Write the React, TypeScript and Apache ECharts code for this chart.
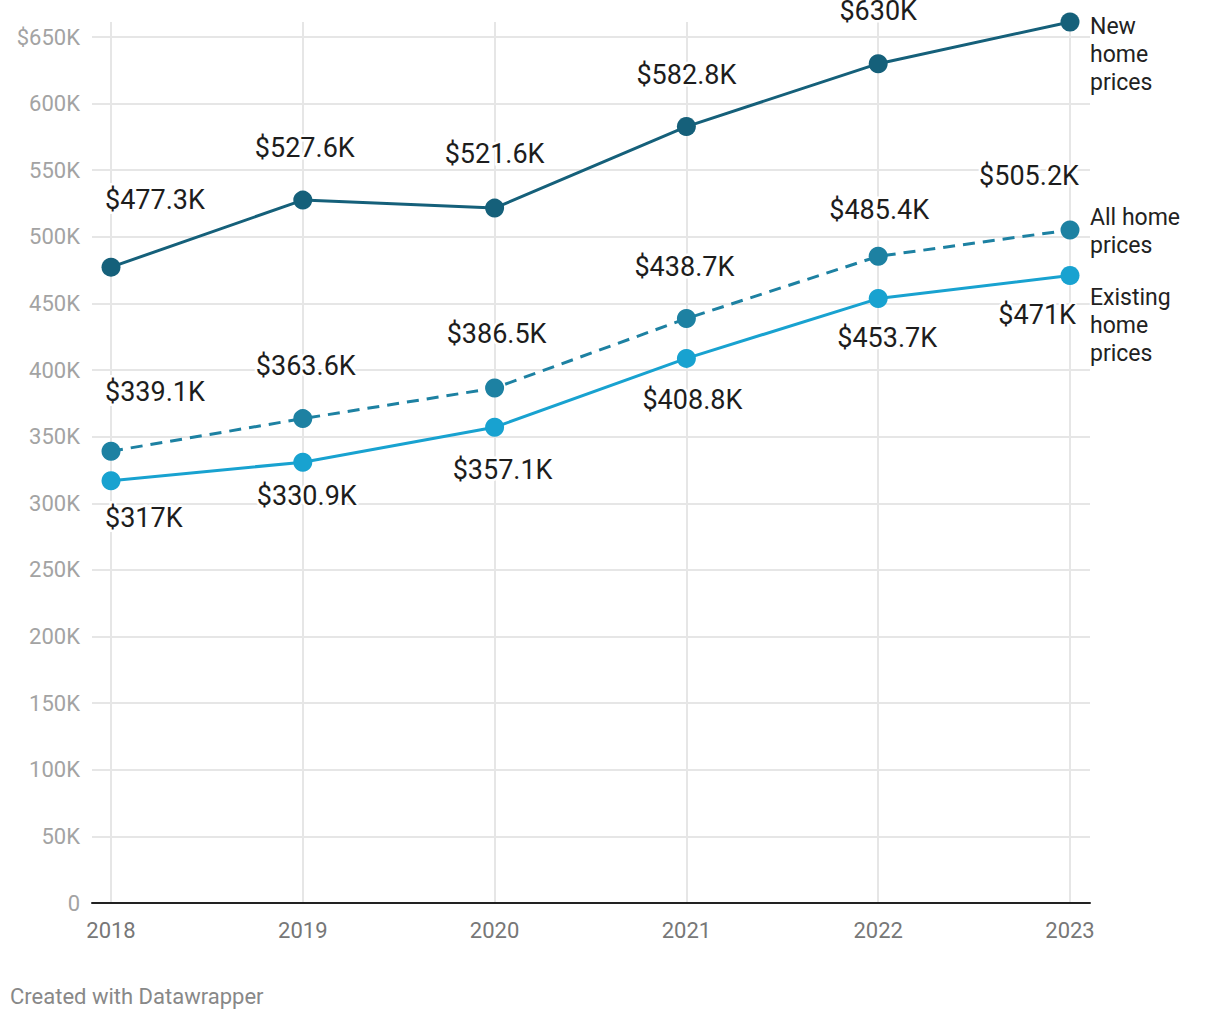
import React, { useEffect, useRef } from "react";
import * as echarts from "echarts";

const years = ["2018", "2019", "2020", "2021", "2022", "2023"];
const newHome = [477.3, 527.6, 521.6, 582.8, 630, 661.3];
const allHome = [339.1, 363.6, 386.5, 438.7, 485.4, 505.2];
const existingHome = [317, 330.9, 357.1, 408.8, 453.7, 471];
const seriesNames = ["New\nhome\nprices", "All home\nprices", "Existing\nhome\nprices"];
const yTickMax = 650;
const yTickStep = 50;

// label layout (pixel offsets, styling only)
const newDy = [-67, -52, -54, -52, -53, -54];
const newDx = [-6, 2, 0, 0, 0, 8];
const allDy = [-59, -53, -54, -52, -46, -54];
const allDx = [-6, 3, 2, -2, 1, 9];
const exDy = [37, 34, 43, 42, 39, 39];
const exDx = [-6, 4, 8, 6, 9, 6];

const fmt = (v: number) => "$" + (Number.isInteger(v) ? String(v) : v.toFixed(1)) + "K";

function buildData(values: number[], dx: number[], dy: number[], hideLast = false) {
  const n = values.length;
  return values.map((v, i) => ({
    value: v,
    label: {
      show: !(hideLast && i === n - 1),
      position: "inside",
      align: i === 0 ? "left" : i === n - 1 ? "right" : "center",
      verticalAlign: "middle",
      offset: [dx[i], dy[i]],
    },
  }));
}

export default function App() {
  const ref = useRef<HTMLDivElement>(null);
  useEffect(() => {
    document.body.style.margin = "0";
    const chart = echarts.init(ref.current!, null, { renderer: "svg" });
    const yMax = Math.max(...newHome);
    const labelStyle = {
      formatter: (p: any) => fmt(p.value),
      fontFamily: "Roboto",
      fontSize: 27,
      color: "#1d1d1d",
      textBorderColor: "#fff",
      textBorderWidth: 5,
    };
    const endLabel = (text: string, dy: number) => ({
      show: true,
      formatter: text,
      distance: 10,
      align: "left",
      verticalAlign: "top",
      offset: [10, dy],
      fontFamily: "Roboto",
      fontSize: 23,
      lineHeight: 28,
      color: "#222",
      textBorderColor: "#fff",
      textBorderWidth: 4,
    });
    const mk = (name: string, data: any[], color: string, dashed: boolean, endText: string, endDy: number) => ({
      name,
      type: "line",
      xAxisIndex: 1,
      yAxisIndex: 1,
      data,
      symbol: "circle",
      symbolSize: 19,
      itemStyle: { color },
      lineStyle: { color, width: 3, type: dashed ? [12, 8] : "solid" },
      label: labelStyle,
      endLabel: endLabel(endText, endDy),
      z: 3,
    });
    chart.setOption({
      animation: false,
      backgroundColor: "#fff",
      textStyle: { fontFamily: "Roboto" },
      grid: [
        { left: 92, right: 130, top: 37, bottom: 117 },
        { left: 111, right: 150, top: 22, bottom: 117 },
      ],
      xAxis: [
        {
          gridIndex: 0,
          type: "value",
          min: 0,
          max: 1,
          z: 5,
          axisLine: { show: true, lineStyle: { color: "#222", width: 2 } },
          axisTick: { show: false },
          axisLabel: { show: false },
          splitLine: { show: false },
        },
        {
          gridIndex: 1,
          type: "category",
          data: years,
          boundaryGap: false,
          axisLine: { show: false },
          axisTick: { show: false },
          axisLabel: { color: "#777", fontSize: 22, margin: 16, fontFamily: "Roboto" },
          splitLine: { show: true, lineStyle: { color: "#e6e6e6", width: 2 } },
        },
      ],
      yAxis: [
        {
          gridIndex: 0,
          type: "value",
          min: 0,
          max: yTickMax,
          interval: yTickStep,
          axisLine: { show: false },
          axisTick: { show: false },
          axisLabel: {
            color: "#a3a3a3",
            fontSize: 22,
            margin: 12,
            fontFamily: "Roboto",
            formatter: (v: number) => (v === 0 ? "0" : v === yTickMax ? "$" + v + "K" : v + "K"),
          },
          splitLine: { show: true, lineStyle: { color: "#e6e6e6", width: 2 } },
        },
        { gridIndex: 1, type: "value", min: 0, max: yMax, show: false },
      ],
      series: [
        mk("New home prices", buildData(newHome, newDx, newDy, true), "#15607a", false, seriesNames[0], -10),
        mk("All home prices", buildData(allHome, allDx, allDy), "#1d81a2", true, seriesNames[1], -26),
        mk("Existing home prices", buildData(existingHome, exDx, exDy), "#18a2d0", false, seriesNames[2], 8),
      ],
      graphic: [
        {
          type: "text",
          left: 10,
          top: 985,
          style: { text: "Created with Datawrapper", fill: "#888", font: "22px Roboto" },
        },
      ],
    });
    return () => chart.dispose();
  }, []);
  return <div ref={ref} style={{ width: 1220, height: 1020 }} />;
}
